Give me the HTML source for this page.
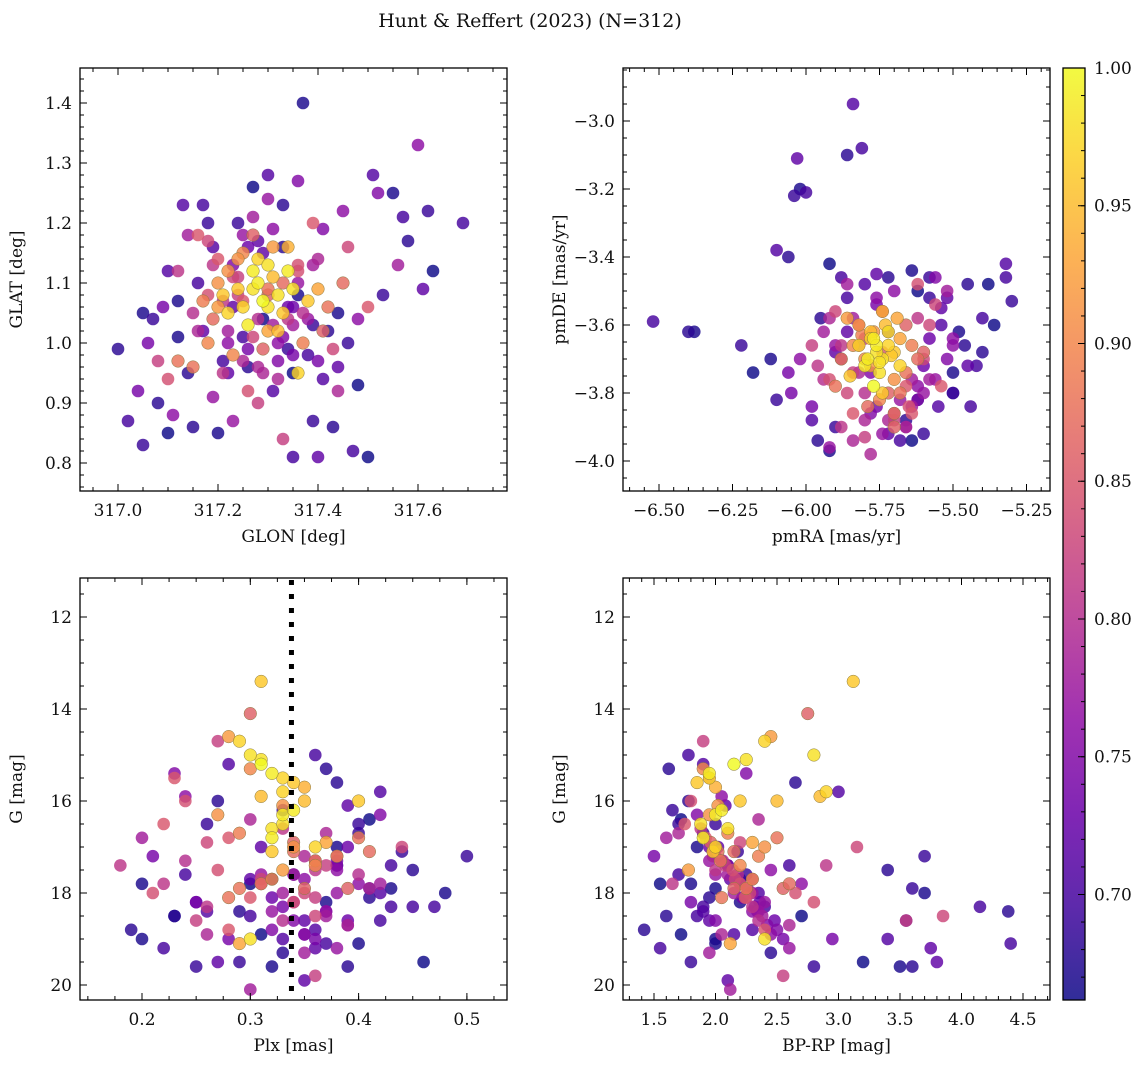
<!DOCTYPE html>
<html><head><meta charset="utf-8"><style>
body{margin:0;background:#fff}
svg text{font-family:"DejaVu Serif","Liberation Serif",serif;fill:#111}
</style></head><body>
<svg id="fig" width="1148" height="1068" xmlns="http://www.w3.org/2000/svg">
<rect width="1148" height="1068" fill="#fff"/>
<text x="530" y="27" font-size="19" text-anchor="middle">Hunt &amp; Reffert (2023) (N=312)</text>
</svg>
<script>
const glon=[317.28,317.30,317.25,317.32,317.27,317.33,317.22,317.35,317.29,317.31,317.26,317.36,317.24,317.30,317.28,317.34,317.21,317.32,317.27,317.38,
317.20,317.18,317.24,317.40,317.15,317.37,317.22,317.34,317.19,317.42,317.29,317.25,317.31,317.17,317.45,317.12,317.23,317.30,317.20,317.41,
317.10,317.46,317.16,317.33,317.12,317.26,317.43,317.08,317.50,317.21,317.36,317.18,317.28,317.39,
317.14,317.30,317.44,317.11,317.36,317.56,317.23,317.40,317.06,317.48,317.27,317.52,317.19,317.32,317.45,317.09,317.35,317.25,317.16,317.41,317.04,317.60,
317.00,317.02,317.05,317.05,317.10,317.13,317.15,317.17,317.20,317.22,317.24,317.27,317.30,317.33,317.35,317.37,317.39,317.40,317.43,317.47,317.50,317.51,317.53,317.55,317.57,317.58,317.61,317.62,317.63,317.69,
317.10,317.08,317.12,317.18,317.21,317.23,317.26,317.29,317.31,317.34,317.36,317.38,317.42,317.44,317.46,317.48,317.19,317.16,317.14,317.12,317.07,317.25,317.28,317.33,317.35,317.39,317.41,317.44,
317.22,317.24,317.26,317.28,317.30,317.32,317.34,317.36,317.38,317.21,317.23,317.25,317.27,317.29,317.31,317.33,317.35,317.37,317.20,317.22,317.24,317.26,317.28,317.30,317.32,317.34,317.36,317.18,317.17,317.39,317.40,317.15,317.27,317.31,317.23,317.35,317.29,317.25,317.33,317.19];
const glat=[1.10,1.13,1.06,1.08,1.12,1.05,1.05,1.09,1.07,1.11,1.03,0.95,1.09,1.06,1.14,1.12,1.08,1.02,1.09,1.07,
1.06,1.00,1.14,1.09,0.96,1.00,1.12,1.16,1.04,1.06,0.99,1.15,1.16,1.07,1.10,0.97,0.98,1.02,1.10,1.02,
0.94,1.16,1.18,0.84,1.12,0.92,0.99,0.97,1.06,0.95,1.13,1.17,0.90,1.20,
1.18,1.24,0.92,0.88,1.27,1.13,0.87,1.14,1.00,1.04,1.21,1.25,0.91,0.94,1.22,1.06,1.03,1.18,1.02,1.19,0.92,1.33,
0.99,0.87,1.05,0.83,0.85,1.23,0.86,1.23,0.85,0.95,1.20,1.26,1.28,1.16,0.81,1.40,0.87,0.81,0.86,0.82,0.81,1.28,1.08,1.25,1.21,1.17,1.09,1.22,1.12,1.20,
1.12,0.90,1.07,1.20,0.97,1.06,0.96,1.04,0.92,0.99,1.08,0.98,1.02,0.96,1.00,0.93,1.16,1.10,0.95,1.01,1.04,1.01,1.17,1.23,0.95,1.03,0.94,1.05,
1.02,1.11,0.99,1.04,1.08,1.00,1.06,1.12,1.04,1.07,1.13,0.97,1.01,1.15,1.03,1.10,0.98,1.05,1.14,1.00,1.08,1.16,0.96,1.09,0.97,1.04,1.10,1.08,1.02,1.13,0.97,1.05,1.18,1.19,1.11,1.06,0.95,1.07,1.01,1.13];
const pmra=[-5.76,-5.74,-5.78,-5.72,-5.80,-5.70,-5.82,-5.75,-5.77,-5.73,-5.79,-5.68,-5.85,-5.76,-5.72,-5.77,-5.74,-5.78,-5.75,-5.71,
-5.86,-5.80,-5.70,-5.68,-5.90,-5.64,-5.82,-5.74,-5.79,-5.66,-5.72,-5.84,-5.78,-5.81,-5.62,-5.88,-5.75,-5.69,-5.77,-5.60,
-5.92,-5.58,-5.84,-5.70,-5.96,-5.65,-5.56,-5.98,-5.54,-5.88,-5.62,-5.90,-5.80,-5.64,
-5.94,-5.60,-5.78,-6.02,-5.56,-5.52,-5.92,-5.66,-6.05,-5.50,-5.86,-5.62,-5.74,-5.82,-5.70,-5.98,-5.58,-5.90,-5.84,-5.52,-6.06,-5.50,
-6.40,-6.52,-6.38,-6.22,-6.18,-6.10,-6.06,-6.00,-6.02,-6.03,-6.04,-5.92,-5.84,-5.86,-5.81,-5.64,-5.58,-5.52,-5.45,-5.40,-5.36,-5.32,-5.30,-5.14,-5.32,-5.40,-5.45,-5.50,-5.38,-5.44,
-5.98,-5.96,-5.92,-5.90,-5.68,-5.72,-5.66,-5.62,-5.55,-5.50,-5.48,-5.42,-5.46,-5.54,-5.58,-5.62,-5.80,-5.86,-5.95,-6.12,-6.10,-5.88,-5.76,-5.72,-5.64,-5.60,-5.54,-5.50,
-5.84,-5.80,-5.76,-5.70,-5.66,-5.62,-5.88,-5.74,-5.68,-5.82,-5.78,-5.72,-5.60,-5.86,-5.64,-5.70,-5.76,-5.80,-5.74,-5.66,-5.84,-5.58,-5.92,-5.68,-5.78,-5.62,-5.56,-5.82,-5.90,-5.64,-5.72,-5.94,-5.70,-5.76,-5.86,-5.60,-5.80,-5.66,-5.74,-5.88];
const pmde=[-3.66,-3.70,-3.64,-3.62,-3.72,-3.68,-3.66,-3.74,-3.78,-3.60,-3.70,-3.72,-3.75,-3.68,-3.66,-3.64,-3.80,-3.62,-3.71,-3.69,
-3.58,-3.70,-3.76,-3.64,-3.78,-3.66,-3.60,-3.56,-3.84,-3.74,-3.80,-3.66,-3.72,-3.63,-3.70,-3.70,-3.82,-3.58,-3.62,-3.68,
-3.76,-3.60,-3.86,-3.88,-3.72,-3.84,-3.54,-3.66,-3.78,-3.90,-3.48,-3.56,-3.93,-3.86,
-3.62,-3.80,-3.98,-3.70,-3.46,-3.50,-3.96,-3.90,-3.80,-3.64,-3.48,-3.82,-3.92,-3.74,-3.50,-3.84,-3.76,-3.66,-3.94,-3.70,-3.74,-3.66,
-3.62,-3.59,-3.62,-3.66,-3.74,-3.38,-3.40,-3.21,-3.20,-3.11,-3.22,-3.42,-2.95,-3.10,-3.08,-3.44,-3.46,-3.52,-3.48,-3.58,-3.60,-3.42,-3.53,-3.31,-3.46,-3.68,-3.72,-3.80,-3.48,-3.84,
-3.88,-3.94,-3.97,-3.90,-3.94,-3.92,-3.88,-3.82,-3.84,-3.80,-3.62,-3.72,-3.66,-3.55,-3.52,-3.50,-3.48,-3.52,-3.58,-3.70,-3.82,-3.46,-3.45,-3.46,-3.94,-3.92,-3.60,-3.74,
-3.58,-3.64,-3.84,-3.86,-3.60,-3.78,-3.70,-3.56,-3.82,-3.66,-3.74,-3.88,-3.70,-3.62,-3.76,-3.86,-3.54,-3.80,-3.68,-3.90,-3.74,-3.64,-3.58,-3.80,-3.86,-3.58,-3.76,-3.60,-3.68,-3.84,-3.62,-3.76,-3.90,-3.52,-3.80,-3.72,-3.88,-3.78,-3.56,-3.66];
const plx=[0.32,0.31,0.33,0.30,0.33,0.34,0.29,0.32,0.31,0.35,0.32,0.36,0.31,0.30,0.33,0.34,0.32,0.31,0.33,0.40,
0.28,0.30,0.33,0.37,0.29,0.38,0.27,0.35,0.31,0.40,0.30,0.36,0.33,0.29,0.41,0.28,0.32,0.29,0.34,0.39,
0.21,0.44,0.22,0.25,0.18,0.24,0.36,0.27,0.28,0.22,0.34,0.26,0.36,0.23,
0.20,0.31,0.39,0.24,0.42,0.30,0.32,0.37,0.28,0.40,0.35,0.23,0.36,0.26,0.38,0.21,0.33,0.38,0.30,0.34,0.25,0.35,
0.19,0.22,0.20,0.26,0.31,0.28,0.27,0.43,0.38,0.35,0.40,0.30,0.42,0.45,0.47,0.48,0.41,0.36,0.39,0.42,0.46,0.33,0.50,0.32,0.37,0.29,0.27,0.25,0.23,0.43,
0.35,0.33,0.37,0.34,0.30,0.31,0.41,0.38,0.36,0.40,0.43,0.45,0.38,0.35,0.33,0.32,0.26,0.24,0.23,0.20,0.29,0.36,0.39,0.37,0.41,0.44,0.42,0.40,
0.34,0.36,0.38,0.33,0.35,0.37,0.39,0.31,0.34,0.36,0.32,0.38,0.35,0.30,0.37,0.34,0.33,0.40,0.28,0.35,0.37,0.32,0.41,0.36,0.39,0.33,0.38,0.27,0.25,0.42,0.36,0.24,0.34,0.37,0.31,0.39,0.35,0.30,0.38,0.26];
const gmag=[15.4,15.1,15.8,15.0,16.3,15.6,14.7,16.6,15.2,16.0,16.8,17.0,13.4,19.0,15.5,16.2,17.1,15.9,16.5,16.0,
14.6,15.3,16.1,16.9,17.9,17.2,16.3,15.7,17.8,16.8,14.1,17.4,17.5,16.7,17.1,18.1,17.7,19.1,17.0,17.9,
18.0,17.0,16.5,18.6,17.4,16.0,18.5,14.7,18.8,17.8,18.2,16.9,19.8,15.5,
16.8,17.6,18.7,15.9,16.3,20.1,18.4,16.7,19.0,17.8,19.3,15.4,17.3,18.9,17.5,17.2,18.0,19.2,16.4,18.6,18.2,17.7,
18.8,19.2,17.8,16.5,18.9,15.2,16.0,18.3,17.0,18.6,16.5,17.8,15.8,17.5,18.3,18.0,17.9,19.2,19.6,18.6,19.5,19.0,17.2,19.6,19.1,18.4,19.5,19.6,18.5,17.4,
18.9,19.3,18.2,17.6,18.5,17.0,18.1,17.4,18.8,16.7,17.9,18.3,15.6,19.9,16.2,17.7,18.4,17.6,18.5,19.0,19.5,15.0,16.1,15.3,16.4,17.1,18.0,19.1,
17.6,18.1,17.3,18.6,17.9,18.4,17.0,17.8,18.2,17.5,18.8,17.2,18.0,17.7,18.5,17.1,18.3,17.6,16.8,18.9,17.4,18.1,17.9,17.3,18.7,16.6,18.0,17.5,18.2,17.8,19.0,17.3,16.9,18.4,17.7,18.6,17.2,18.1,17.4,18.3];
const bprp=[1.95,2.25,2.90,2.80,2.00,1.85,2.40,2.10,2.15,2.50,1.90,2.00,3.12,2.40,1.95,2.05,1.98,2.85,1.88,2.20,
2.45,1.90,2.02,2.30,2.25,2.35,1.95,2.00,2.60,2.50,2.75,2.20,1.78,2.10,2.15,2.05,2.30,2.12,2.40,2.55,
2.65,3.15,1.75,3.55,2.90,1.80,3.85,1.90,2.40,1.65,2.80,2.20,2.55,1.95,
1.60,2.00,2.60,2.05,1.85,2.12,2.35,1.70,2.95,2.70,1.95,2.25,1.95,2.05,2.45,1.50,2.15,2.60,2.35,2.00,1.80,2.30,
1.42,1.55,1.80,1.70,1.72,1.90,1.78,1.90,1.85,1.95,2.00,1.55,3.00,3.40,4.15,3.70,3.60,3.75,3.60,3.55,3.20,3.40,3.70,3.50,4.40,4.38,3.80,2.80,2.70,2.60,
2.15,2.45,2.20,2.25,1.85,2.02,1.95,2.10,2.30,1.90,2.00,2.40,2.65,2.10,1.65,2.20,1.90,1.70,1.60,2.00,1.80,1.78,2.08,1.62,1.72,2.18,2.35,2.00,
2.10,2.25,2.05,2.35,2.15,2.30,1.95,2.20,2.40,2.00,2.50,1.98,2.28,2.12,2.38,2.02,2.32,2.18,1.92,2.45,2.08,2.22,2.26,2.04,2.42,1.88,2.30,2.14,2.36,2.20,2.55,2.06,1.96,2.34,2.16,2.48,2.00,2.24,2.10,2.30];
const prob=[0.99,0.98,0.97,0.98,0.99,0.96,0.97,0.98,1.00,0.95,0.99,0.97,0.96,0.98,0.97,0.99,0.96,0.95,0.98,0.96,
0.92,0.90,0.91,0.93,0.88,0.89,0.91,0.94,0.87,0.88,0.86,0.90,0.92,0.89,0.87,0.88,0.90,0.93,0.91,0.86,
0.84,0.83,0.85,0.82,0.81,0.84,0.83,0.82,0.85,0.81,0.84,0.83,0.82,0.85,
0.78,0.77,0.79,0.76,0.75,0.78,0.77,0.79,0.74,0.76,0.78,0.75,0.77,0.79,0.76,0.74,0.78,0.77,0.79,0.75,0.74,0.76,
0.68,0.70,0.67,0.69,0.66,0.71,0.68,0.70,0.67,0.72,0.69,0.66,0.71,0.68,0.70,0.67,0.69,0.72,0.68,0.70,0.66,0.71,0.69,0.67,0.70,0.68,0.72,0.69,0.66,0.70,
0.71,0.68,0.67,0.69,0.70,0.72,0.68,0.66,0.71,0.69,0.67,0.70,0.68,0.72,0.69,0.66,0.71,0.70,0.68,0.67,0.69,0.70,0.72,0.68,0.66,0.69,0.71,0.67,
0.78,0.82,0.74,0.80,0.86,0.76,0.73,0.84,0.77,0.81,0.75,0.79,0.83,0.72,0.78,0.87,0.74,0.80,0.85,0.76,0.82,0.73,0.79,0.88,0.75,0.81,0.77,0.84,0.72,0.78,0.74,0.80,0.86,0.76,0.83,0.73,0.79,0.85,0.75,0.81];
const cbTicks=[0.70,0.75,0.80,0.85,0.90,0.95,1.00];
const plxCut=0.338;

const NS="http://www.w3.org/2000/svg";
const svg=document.getElementById('fig');
function el(t,a,p){const e=document.createElementNS(NS,t);for(const k in a)e.setAttribute(k,a[k]);(p||svg).appendChild(e);return e;}
const stops=[[0,[13,8,135]],[0.1,[65,4,157]],[0.2,[106,0,168]],[0.3,[143,13,164]],[0.4,[177,42,144]],[0.5,[204,71,120]],[0.6,[225,100,98]],[0.7,[242,132,75]],[0.8,[252,166,54]],[0.9,[252,206,37]],[1,[240,249,33]]];
function plasma(t){t=Math.max(0,Math.min(1,t));for(let i=1;i<stops.length;i++){if(t<=stops[i][0]){const a=stops[i-1],b=stops[i];const f=(t-a[0])/(b[0]-a[0]);return 'rgb('+a[1].map((v,j)=>Math.round(v+(b[1][j]-v)*f)).join(',')+')';}}return 'rgb(240,249,33)';}
const vmin=0.6617,vmax=1.0;
const norm=v=>(v-vmin)/(vmax-vmin);
const order=prob.map((p,i)=>i).sort((a,b)=>prob[a]-prob[b]);

function axes(name,box,X,Y,xticks,yticks,xminor,yminor,xfmt,yfmt,xlab,ylab,xs,ys){
  const g=el('g',{});
  
  
  const cp=el('clipPath',{id:'c'+name},g);
  el('rect',{x:box.x0,y:box.y0,width:box.x1-box.x0,height:box.y1-box.y0},cp);
  const pts=el('g',{'clip-path':'url(#c'+name+')'},g);
  
  
  order.forEach(i=>{
    const c=el('circle',{cx:X(xs[i]),cy:Y(ys[i]),r:6.3,fill:plasma(norm(prob[i])),'fill-opacity':0.82,stroke:prob[i]>0.85?'#8a7a40':'none','stroke-width':0.5},pts);
    
    
  });
  el('rect',{x:box.x0,y:box.y0,width:box.x1-box.x0,height:box.y1-box.y0,fill:'none',stroke:'#000','stroke-width':1.3},g);
  xticks.forEach(v=>{const x=X(v);el('line',{x1:x,x2:x,y1:box.y1,y2:box.y1-7,stroke:'#000'},g);el('line',{x1:x,x2:x,y1:box.y0,y2:box.y0+7,stroke:'#000'},g);
    const t=el('text',{x:x,y:box.y1+25,'font-size':17,'text-anchor':'middle'},g);t.textContent=xfmt(v);
    });
  xminor.forEach(v=>{const x=X(v);if(x<box.x0||x>box.x1)return;el('line',{x1:x,x2:x,y1:box.y1,y2:box.y1-4,stroke:'#000'},g);el('line',{x1:x,x2:x,y1:box.y0,y2:box.y0+4,stroke:'#000'},g);});
  yticks.forEach(v=>{const y=Y(v);el('line',{x1:box.x0,x2:box.x0+7,y1:y,y2:y,stroke:'#000'},g);el('line',{x1:box.x1,x2:box.x1-7,y1:y,y2:y,stroke:'#000'},g);
    const t=el('text',{x:box.x0-8,y:y+6,'font-size':17,'text-anchor':'end'},g);t.textContent=yfmt(v);
    });
  yminor.forEach(v=>{const y=Y(v);if(y<box.y0||y>box.y1)return;el('line',{x1:box.x0,x2:box.x0+4,y1:y,y2:y,stroke:'#000'},g);el('line',{x1:box.x1,x2:box.x1-4,y1:y,y2:y,stroke:'#000'},g);});
  const xl=el('text',{x:(box.x0+box.x1)/2,y:box.y1+51,'font-size':17,'text-anchor':'middle'},g);xl.textContent=xlab;
  
  const yx=box.x0-58;const yy=(box.y0+box.y1)/2;
  const yl=el('text',{x:yx,y:yy,'font-size':17,'text-anchor':'middle',transform:'rotate(-90 '+yx+' '+yy+')'},g);yl.textContent=ylab;
  
  return g;
}
function rng(a,b,s){const r=[];for(let v=a;v<=b+1e-9;v+=s)r.push(Math.round(v*1000)/1000);return r;}
const negf=(v,d)=>(v<0?'\u2212':'')+Math.abs(v).toFixed(d);

// Panel 1
const b1={x0:80,x1:507,y0:68,y1:491};
const X1=v=>118+(v-317.0)*500, Y1=v=>343-(v-1.0)*600;
axes('glon-glat-panel',b1,X1,Y1,rng(317.0,317.6,0.2),rng(0.8,1.4,0.1),rng(316.95,317.75,0.05),rng(0.76,1.45,0.02),
 v=>v.toFixed(1),v=>v.toFixed(1),'GLON [deg]','GLAT [deg]',glon,glat);
// Panel 2
const b2={x0:623,x1:1050,y0:68,y1:491};
const X2=v=>806+(v+6.0)*294, Y2=v=>121-(v+3.0)*340;
axes('pm-panel',b2,X2,Y2,rng(-6.5,-5.25,0.25),rng(-4.0,-3.0,0.2),rng(-6.65,-5.05,0.05),rng(-4.1,-2.85,0.05),
 v=>negf(v,2),v=>negf(v,1),'pmRA [mas/yr]','pmDE [mas/yr]',pmra,pmde);
// Panel 3
const b3={x0:80,x1:507,y0:578,y1:1000};
const X3=v=>142+(v-0.2)*1083, Y3=v=>617+(v-12)*46;
const g3=axes('plx-g-panel',b3,X3,Y3,rng(0.2,0.5,0.1),rng(12,20,2),rng(0.15,0.55,0.025),rng(11,20.5,0.5),
 v=>v.toFixed(1),v=>String(v),'Plx [mas]','G [mag]',plx,gmag);
const cut=el('line',{x1:X3(plxCut),x2:X3(plxCut),y1:b3.y0+2,y2:b3.y1,stroke:'#000','stroke-width':5,'stroke-dasharray':'5 9'},g3);


// Panel 4
const b4={x0:623,x1:1050,y0:578,y1:1000};
const X4=v=>654+(v-1.5)*123, Y4=v=>617+(v-12)*46;
axes('cmd-panel',b4,X4,Y4,rng(1.5,4.5,0.5),rng(12,20,2),rng(1.2,4.7,0.1),rng(11,20.5,0.5),
 v=>v.toFixed(1),v=>String(v),'BP-RP [mag]','G [mag]',bprp,gmag);
// Colorbar
const cb=el('g',{});


const defs=el('defs',{},cb);const lg=el('linearGradient',{id:'cbg',x1:0,y1:1,x2:0,y2:0},defs);
for(let i=0;i<=20;i++)el('stop',{offset:i/20,'stop-color':plasma(i/20),'stop-opacity':0.85},lg);
const cbx0=1063,cbx1=1085,cby0=68,cby1=1000;
const CY=v=>cby1-(v-vmin)/(vmax-vmin)*(cby1-cby0);
el('rect',{x:cbx0,y:cby0,width:cbx1-cbx0,height:cby1-cby0,fill:'url(#cbg)',stroke:'#000','stroke-width':1.3},cb);
rng(0.67,1.0,0.01).forEach(v=>{const y=CY(v);el('line',{x1:cbx1,x2:cbx1-4,y1:y,y2:y,stroke:'#000'},cb);});
cbTicks.forEach(v=>{const y=CY(v);el('line',{x1:cbx1,x2:cbx1-7,y1:y,y2:y,stroke:'#000'},cb);
  const t=el('text',{x:cbx1+9,y:y+6,'font-size':17},cb);t.textContent=v.toFixed(2);
  });
</script>
</body></html>
